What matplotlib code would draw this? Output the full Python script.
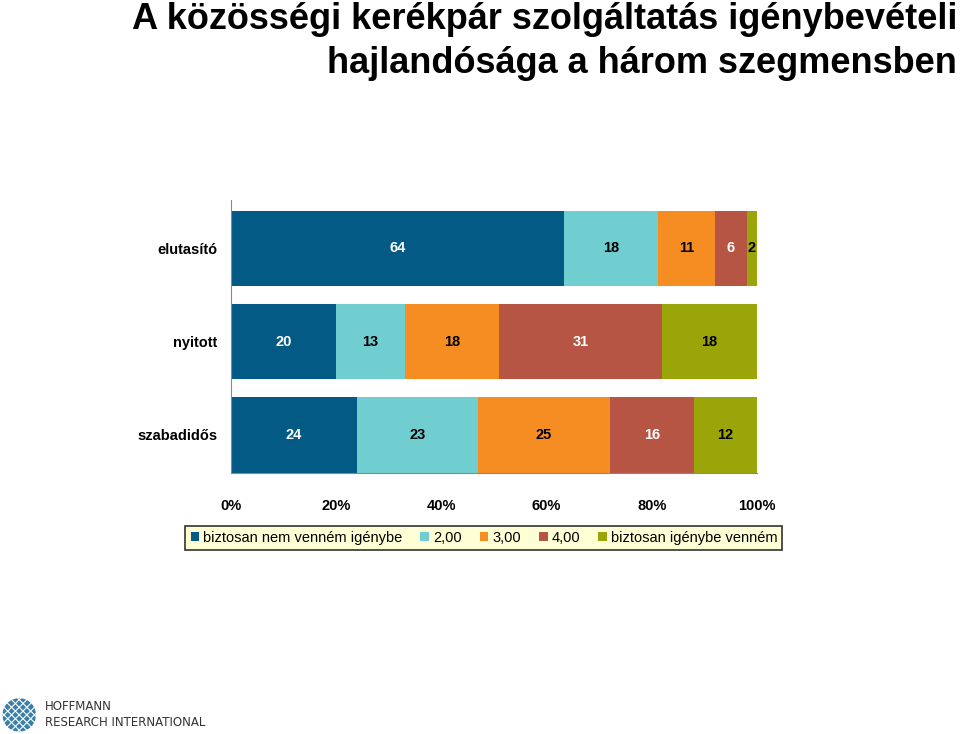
import numpy as np
import matplotlib.pyplot as plt
import matplotlib
from matplotlib.patches import Circle

matplotlib.rcParams['font.family'] = ['Liberation Sans Narrow', 'Liberation Sans', 'DejaVu Sans']

segments = ['elutasító', 'nyitott', 'szabadidős']
answers = ['biztosan nem venném igénybe', '2,00', '3,00', '4,00', 'biztosan igénybe venném']
values = np.array([
    [64, 18, 11, 6, 2],
    [20, 13, 18, 31, 18],
    [24, 23, 25, 16, 12],
])
colors = ['#035A84', '#70CDD0', '#F58D22', '#B65544', '#9AA509']
label_colors = ['white', 'black', 'black', 'white', 'black']
xticks = [0, 20, 40, 60, 80, 100]
title_lines = ['A közösségi kerékpár szolgáltatás igénybevételi',
               'hajlandósága a három szegmensben']

fig = plt.figure(figsize=(9.6, 7.34), dpi=100)
ax = fig.add_axes([0.2406, 0.3556, 0.5479, 0.372])

shares = values / values.sum(axis=1, keepdims=True) * 100
y = np.arange(len(segments))
left = np.zeros(len(segments))
for j in range(len(answers)):
    ax.barh(y, shares[:, j], left=left, height=0.81, color=colors[j],
            label=answers[j])
    for i in range(len(segments)):
        ax.text(left[i] + shares[i, j] / 2, y[i], str(values[i, j]),
                ha='center', va='center', fontsize=10.5, fontweight='bold',
                color=label_colors[j])
    left += shares[:, j]

ax.set_xlim(0, 100)
ax.set_ylim(2.41, -0.52)
ax.set_yticks(y)
ax.set_yticklabels(segments, fontsize=10.5, fontweight='bold')
ax.set_xticks(xticks)
ax.set_xticklabels(['{0}%'.format(t) for t in xticks], fontsize=10.5, fontweight='bold')
ax.tick_params(length=0)
ax.tick_params(axis='y', pad=10)
ax.tick_params(axis='x', pad=19)
for s in ['top', 'right']:
    ax.spines[s].set_visible(False)
ax.spines['left'].set_color('#888888')
ax.spines['bottom'].set_color('#888888')

leg = fig.legend(loc='center', bbox_to_anchor=(0.504, 0.2675), ncol=5,
                 fontsize=10.5, frameon=True, fancybox=False,
                 handlelength=0.6, handleheight=0.6, handletextpad=0.25,
                 columnspacing=1.25, borderpad=0.35)
leg.get_frame().set_facecolor('#FFFFCC')
leg.get_frame().set_edgecolor('black')
leg.get_frame().set_linewidth(1.2)

# title, right aligned, one text per line
fig.text(0.997, 1 - 29 / 734, title_lines[0], ha='right', va='baseline',
         fontsize=26, fontweight='bold')
fig.text(0.997, 1 - 73 / 734, title_lines[1], ha='right', va='baseline',
         fontsize=26, fontweight='bold')

# logo
lax = fig.add_axes([0.0, 0.0, 0.04, 0.052])
lax.set_xlim(-1, 1)
lax.set_ylim(-1, 1)
lax.set_aspect('equal')
lax.axis('off')
lax.add_patch(Circle((0, 0), 0.95, color='#3A7FA8'))
for k in np.linspace(-0.8, 0.8, 5):
    lax.plot([k - 0.9, k + 0.9], [-0.9, 0.9], color='white', lw=0.8)
    lax.plot([k - 0.9, k + 0.9], [0.9, -0.9], color='white', lw=0.8)
lax.add_patch(Circle((0, 0), 0.95, fill=False, ec='white', lw=2))
fig.text(0.047, 0.0368, 'HOFFMANN', fontsize=8.5, color='#333333', family='DejaVu Sans', va='center')
fig.text(0.047, 0.0163, 'RESEARCH INTERNATIONAL', fontsize=8.5, color='#333333', family='DejaVu Sans', va='center')

fig.savefig('out.png', dpi=100)
